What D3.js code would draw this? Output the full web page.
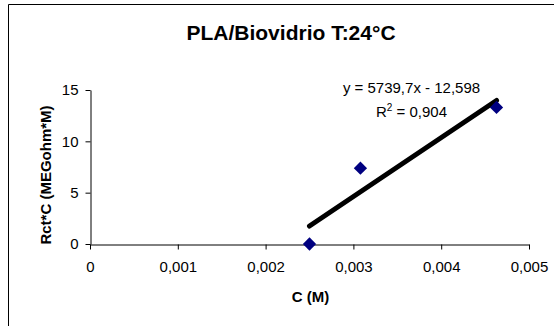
<!DOCTYPE html>
<html>
<head>
<meta charset="utf-8">
<script src="https://cdn.jsdelivr.net/npm/d3@7/dist/d3.min.js"></script>
<style>
  html, body { margin: 0; padding: 0; background: #fff; }
  svg { display: block; font-family: "Liberation Sans", Arial, sans-serif; }
</style>
</head>
<body>
<svg id="chart" width="558" height="326"></svg>
<script>
// Concentration (M) and Rct*C (MEGohm*M) measurements
const concentrations = [0.0025, 0.00308, 0.00463];
const rctTimesC = [0, 7.38, 13.3];

// Linear fit reported on the chart
const fitSlope = 5739.7;
const fitIntercept = -12.598;
const fitR2 = "0,904";

const xTicks = [0, 0.001, 0.002, 0.003, 0.004, 0.005];
const xTickLabels = ["0", "0,001", "0,002", "0,003", "0,004", "0,005"];
const yTicks = [0, 5, 10, 15];
const yTickLabels = ["0", "5", "10", "15"];

const titleText = "PLA/Biovidrio T:24°C";
const xTitle = "C (M)";
const yTitle = "Rct*C (MEGohm*M)";

const svg = d3.select("#chart");

// chart frame (top and left edges visible)
svg.append("path")
  .attr("d", "M8.5,326 V4.5 H554")
  .attr("fill", "none")
  .attr("stroke", "#000")
  .attr("stroke-width", 1);

const plot = { left: 90, right: 529, top: 90, bottom: 244 };

const x = d3.scaleLinear().domain([0, 0.005]).range([plot.left, plot.right]);
const y = d3.scaleLinear().domain([0, 15]).range([plot.bottom, plot.top]);

// x axis
const xAxis = d3.axisBottom(x)
  .tickValues(xTicks)
  .tickFormat((d, i) => xTickLabels[i])
  .tickSizeInner(5)
  .tickSizeOuter(0)
  .tickPadding(12);
const gx = svg.append("g")
  .attr("transform", `translate(0,${plot.bottom + 0.5})`)
  .call(xAxis);

// y axis
const yAxis = d3.axisLeft(y)
  .tickValues(yTicks)
  .tickFormat((d, i) => yTickLabels[i])
  .tickSizeInner(5)
  .tickSizeOuter(0)
  .tickPadding(7);
const gy = svg.append("g")
  .attr("transform", `translate(${plot.left + 0.5},0)`)
  .call(yAxis);

[gx, gy].forEach(g => {
  g.select(".domain").attr("stroke", "#000").attr("stroke-width", 1);
  g.selectAll(".tick line").attr("stroke", "#000");
  g.selectAll(".tick text")
    .attr("fill", "#000")
    .style("font-family", '"Liberation Sans", Arial, sans-serif')
    .style("font-size", "15px");
});

// trend line over the measured range
const xMin = d3.min(concentrations), xMax = d3.max(concentrations);
const fitLine = [xMin, xMax].map(c => [c, fitSlope * c + fitIntercept]);
svg.append("path")
  .datum(fitLine)
  .attr("d", d3.line().x(d => x(d[0])).y(d => y(d[1])))
  .attr("fill", "none")
  .attr("stroke", "#000")
  .attr("stroke-width", 5)
  .attr("stroke-linecap", "round");

// data markers (diamonds)
const diamond = d3.symbol().type(d3.symbolDiamond2).size(112);
svg.append("g")
  .selectAll("path")
  .data(concentrations.map((c, i) => [c, rctTimesC[i]]))
  .join("path")
  .attr("transform", d => `translate(${x(d[0])},${y(d[1])})`)
  .attr("d", diamond)
  .attr("fill", "#000080");

// title
svg.append("text")
  .attr("x", 291)
  .attr("y", 39.5)
  .attr("text-anchor", "middle")
  .style("font-size", "21px")
  .style("font-weight", "bold")
  .text(titleText);

// axis titles
svg.append("text")
  .attr("x", (plot.left + plot.right) / 2 + 1)
  .attr("y", 302)
  .attr("text-anchor", "middle")
  .style("font-size", "15px")
  .style("font-weight", "bold")
  .text(xTitle);

svg.append("text")
  .attr("transform", "translate(51,175) rotate(-90)")
  .attr("text-anchor", "middle")
  .style("font-size", "15px")
  .style("font-weight", "bold")
  .text(yTitle);

// regression label
const eqX = 411.5;
svg.append("text")
  .attr("x", eqX)
  .attr("y", 93.3)
  .attr("text-anchor", "middle")
  .style("font-size", "15px")
  .text(`y = ${String(fitSlope).replace(".", ",")}x - ${String(-fitIntercept).replace(".", ",")}`);

const r2 = svg.append("text")
  .attr("x", eqX)
  .attr("y", 117.3)
  .attr("text-anchor", "middle")
  .style("font-size", "15px");
r2.append("tspan").text("R");
r2.append("tspan").attr("dy", -6).style("font-size", "10px").text("2");
r2.append("tspan").attr("dy", 6).text(` = ${fitR2}`);
</script>
</body>
</html>
